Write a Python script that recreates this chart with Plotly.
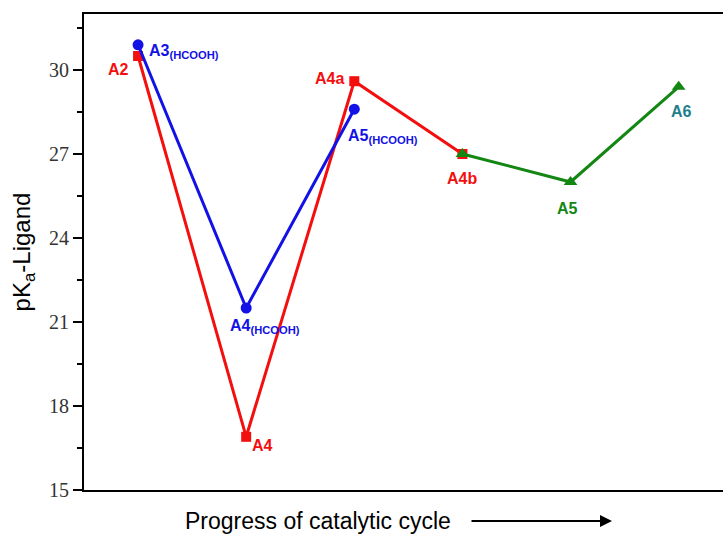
import plotly.graph_objects as go

# Data
red_x = [1, 2, 3, 4]
red_y = [30.5, 16.9, 29.6, 27.0]
red_labels = ["A2", "A4", "A4a", "A4b"]

blue_x = [1, 2, 3]
blue_y = [30.9, 21.5, 28.6]
blue_labels = ["A3<sub>(HCOOH)</sub>", "A4<sub>(HCOOH)</sub>", "A5<sub>(HCOOH)</sub>"]

green_x = [4, 5, 6]
green_y = [27.0, 26.0, 29.4]
green_labels = ["A4b", "A5", "A6"]

RED = "#f40f0f"
BLUE = "#1212e6"
GREEN = "#138613"
TEAL = "#1c7f8c"

fig = go.Figure()
fig.add_trace(go.Scatter(x=red_x, y=red_y, mode="lines+markers",
                         line=dict(color=RED, width=3),
                         marker=dict(symbol="square", size=10, color=RED)))
fig.add_trace(go.Scatter(x=blue_x, y=blue_y, mode="lines+markers",
                         line=dict(color=BLUE, width=3),
                         marker=dict(symbol="circle", size=11, color=BLUE)))
fig.add_trace(go.Scatter(x=green_x, y=green_y, mode="lines+markers",
                         line=dict(color=GREEN, width=3),
                         marker=dict(symbol="triangle-up", size=12, color=GREEN)))


def ann(x, y, text, color, xanchor, yanchor, xshift, yshift):
    fig.add_annotation(x=x, y=y, xref="x", yref="y", text="<b>" + text + "</b>",
                       showarrow=False, xanchor=xanchor, yanchor=yanchor,
                       xshift=xshift, yshift=yshift,
                       font=dict(family="Arial, Liberation Sans", size=16, color=color))

# red labels
ann(red_x[0], red_y[0], red_labels[0], RED, "right", "middle", -7, -13)
ann(red_x[1], red_y[1], red_labels[1], RED, "left", "middle", 4, -9)
ann(red_x[2], red_y[2], red_labels[2], RED, "right", "middle", -8, 3)
ann(red_x[3], red_y[3], red_labels[3], RED, "center", "top", 0, -14)
# blue labels
ann(blue_x[0], blue_y[0], blue_labels[0], BLUE, "left", "middle", 9, -7)
ann(blue_x[1], blue_y[1], blue_labels[1], BLUE, "left", "top", -18, -7)
ann(blue_x[2], blue_y[2], blue_labels[2], BLUE, "left", "top", -8, -16)
# green labels (A4b shared with red)
ann(green_x[1], green_y[1], green_labels[1], GREEN, "center", "top", -3, -16)
ann(green_x[2], green_y[2], green_labels[2], TEAL, "center", "top", 3, -14)

PW = 639  # plot-area width in px

# x title and arrow
fig.add_annotation(x=(318 - 84) / PW, y=(490 - 521) / 476, xref="paper", yref="paper",
                   text="Progress of catalytic cycle", showarrow=False,
                   xanchor="center", yanchor="middle",
                   font=dict(family="Arial, Liberation Sans", size=23, color="black"))
fig.add_annotation(x=(612 - 84) / PW, y=(490 - 521) / 476, xref="paper", yref="paper",
                   text="", showarrow=True, ax=-142, ay=0, arrowhead=2,
                   arrowsize=1.2, arrowwidth=2, arrowcolor="black")

fig.update_layout(
    width=723, height=534,
    margin=dict(l=84, r=0, t=14, b=44),
    paper_bgcolor="white", plot_bgcolor="white",
    showlegend=False,
    xaxis=dict(range=[0.5, 6.41], showgrid=False, zeroline=False,
               showticklabels=False, ticks="", showline=True, mirror=True,
               linecolor="black", linewidth=2),
    yaxis=dict(range=[15, 32], tick0=15, dtick=3, showgrid=False, zeroline=False,
               ticks="outside", ticklen=9, tickwidth=1.5, tickcolor="black",
               minor=dict(tick0=15, dtick=1.5, ticks="outside", ticklen=5,
                          tickwidth=1.5, tickcolor="black"),
               showline=True, linecolor="black", linewidth=2,
               tickfont=dict(family="Liberation Serif, Times New Roman", size=20, color="#333"),
               title=dict(text="pK<sub>a</sub>-Ligand", standoff=12,
                          font=dict(family="Arial, Liberation Sans", size=24, color="black"))),
)

fig.write_html("out.html",
               config={"displayModeBar": False},
               post_script="document.body.style.margin='0';document.body.style.overflow='hidden';")
